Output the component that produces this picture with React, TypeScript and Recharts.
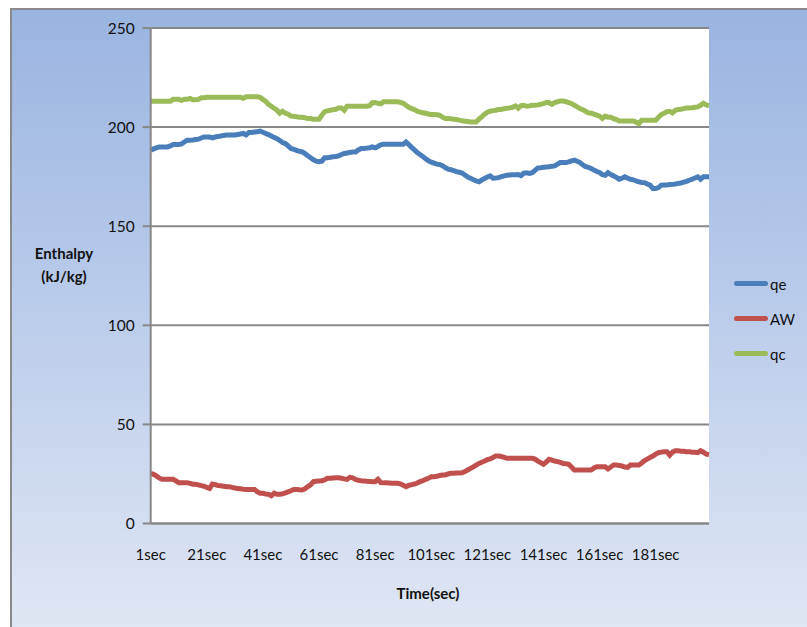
import React from 'react';
import { LineChart, Line, XAxis, YAxis, CartesianGrid, Legend, Label } from 'recharts';

const seconds: string[] = Array.from({ length: 200 }, (_, i) => `${i + 1}sec`);
const xTicks = ['1sec', '21sec', '41sec', '61sec', '81sec', '101sec', '121sec', '141sec', '161sec', '181sec'];
const yTicks = [0, 50, 100, 150, 200, 250];
const seriesOrder = ['qe', 'AW', 'qc'];

const qe = [
  188.3, 189, 189.5, 190, 190, 190, 190, 190.5, 191.2, 191.2,
  191.2, 191.5, 192.5, 193.4, 193.4, 193.5, 193.7, 193.9, 194.5, 195,
  195, 195, 194.6, 195, 195.3, 195.5, 195.8, 196, 196, 196,
  196, 196.3, 196.5, 196.8, 196, 197.3, 197.3, 197.5, 197.6, 198,
  197.4, 196.8, 196.2, 195.5, 194.8, 194.2, 193.2, 192.2, 191.7, 190.5,
  189.2, 188.8, 188.3, 187.8, 187.5, 186.6, 185.5, 184.5, 183.5, 182.8,
  182.5, 182.8, 184.5, 184.5, 184.8, 185, 185.2, 185.5, 186.2, 186.7,
  186.9, 187.2, 187.5, 187.5, 188.5, 189.2, 189.2, 189.4, 189.6, 190,
  189.5, 190.2, 191, 191.4, 191.4, 191.4, 191.4, 191.4, 191.4, 191.4,
  191.4, 192.5, 191.2, 189.8, 188.5, 187.2, 186.2, 185.2, 184, 183,
  182.3, 181.8, 181.3, 181.1, 180.5, 179.6, 178.8, 178.5, 178, 177.5,
  177.2, 176.8, 175.8, 174.8, 174.2, 173.5, 172.8, 172.4, 173.3, 174.1,
  174.8, 175.4, 174.2, 174.3, 174.5, 175, 175.4, 175.7, 175.8, 175.9,
  176, 176.1, 175.5, 176.8, 176.9, 176.6, 177, 178.2, 179.4, 179.5,
  179.7, 179.9, 180, 180.2, 180.4, 181.3, 182.1, 182.1, 182.1, 182.5,
  183, 183.3, 182.8, 182.1, 181, 180, 179.7, 179.1, 178.3, 177.6,
  177.1, 176, 175.7, 177, 176, 175.4, 174.6, 173.7, 174.2, 174.9,
  174.2, 173.7, 173.4, 172.8, 172.4, 172.1, 172, 171.3, 170.7, 169,
  169, 169.5, 170.7, 170.8, 170.8, 171, 171.1, 171.3, 171.6, 171.8,
  172.2, 172.6, 173.2, 173.7, 174.3, 174.9, 173.7, 174.9, 174.9, 174.9,
];

const aw = [
  25.3, 24.8, 24, 23, 22.3, 22.3, 22.3, 22.3, 22.3, 21.5,
  20.6, 20.6, 20.6, 20.6, 20.2, 19.8, 19.8, 19.5, 19.1, 18.8,
  18.2, 17.7, 19.9, 19.6, 19.2, 19, 18.8, 18.6, 18.6, 18.2,
  17.9, 17.7, 17.5, 17.3, 17.2, 17.2, 17.2, 17.2, 16, 15.2,
  15.2, 14.9, 14.7, 14, 15.3, 14.7, 14.7, 15, 15.5, 16,
  16.5, 17.2, 17.2, 17, 16.9, 17.5, 18.6, 19.5, 21.1, 21.3,
  21.5, 21.6, 22, 22.8, 22.8, 23, 23.1, 23.1, 22.8, 22.5,
  22.3, 23.3, 23, 22.2, 21.8, 21.6, 21.5, 21.3, 21.2, 21.1,
  21.1, 22.3, 20.6, 20.5, 20.5, 20.4, 20.3, 20.3, 20.3, 20,
  19.3, 18.6, 19.2, 19.6, 19.9, 20.4, 21.1, 21.6, 22.3, 22.8,
  23.6, 23.6, 23.8, 24.2, 24.5, 24.5, 25, 25.3, 25.4, 25.5,
  25.5, 25.6, 26.2, 27, 27.8, 28.6, 29.5, 30.3, 30.9, 31.5,
  32.2, 32.6, 33.3, 34, 34, 33.8, 33.4, 32.9, 32.9, 32.9,
  32.9, 32.9, 32.9, 32.9, 32.9, 32.9, 32.9, 32.5, 31.5, 30.7,
  29.9, 31, 32.4, 32, 31.5, 31.2, 30.8, 30.3, 30.1, 29.9,
  28.5, 27, 27, 27, 27, 27, 27, 27, 28, 28.6,
  28.6, 28.6, 28.6, 27.5, 28.5, 29.5, 29.5, 29.3, 29, 28.5,
  28.3, 29.5, 29.5, 29.5, 29.5, 30.5, 31.7, 32.5, 33.3, 34,
  35, 35.7, 36, 36.2, 36.2, 34.5, 36, 36.7, 36.7, 36.5,
  36.4, 36.2, 36.2, 36, 35.9, 35.7, 36.7, 36, 35, 34.8,
];

const qc = [
  213, 213, 213, 213, 213, 213, 213, 213, 214, 214,
  214, 213.5, 214, 214, 214.5, 213.8, 213.8, 214, 214.8, 214.8,
  215, 215, 215, 215, 215, 215, 215, 215, 215, 215,
  215, 215, 215, 214.5, 215.3, 215.3, 215.3, 215.3, 215.3, 215,
  214, 213, 211.5, 210.5, 209.5, 208.5, 207, 208, 207, 206.5,
  205.6, 205.5, 205.2, 205, 205, 204.7, 204.3, 204.3, 204, 204,
  204, 206, 207.8, 208.2, 208.5, 208.8, 209, 209.7, 209.7, 208.5,
  210.5, 210.5, 210.5, 210.5, 210.5, 210.5, 210.5, 210.5, 210.8, 212.3,
  212.4, 212, 211.7, 212.8, 212.8, 212.8, 212.8, 212.8, 212.8, 212.5,
  212, 211, 210, 209.3, 208.8, 208, 207.6, 207.2, 207, 206.6,
  206.3, 206.3, 206.2, 206, 205, 204.3, 204.3, 204.2, 204, 203.8,
  203.5, 203.2, 203, 202.8, 202.6, 202.6, 202.6, 204, 205.2, 206.5,
  207.5, 208, 208.3, 208.5, 208.9, 208.9, 209.3, 209.5, 209.7, 210,
  210.7, 209.5, 210.8, 211, 210.5, 210.7, 211, 211, 211.2, 211.5,
  211.8, 212.4, 212.4, 211.5, 212.4, 212.8, 213.2, 213.2, 212.8, 212.3,
  211.9, 211, 210.2, 209.4, 208.8, 208, 207.2, 207, 206.5, 206,
  205.5, 204.3, 205.5, 205, 205, 204.3, 203.8, 203.1, 203.1, 203.1,
  203.1, 203.1, 203.1, 202.5, 201.8, 203.5, 203.5, 203.5, 203.5, 203.5,
  203.5, 205, 206.3, 207, 207.8, 208, 207.2, 208.5, 208.9, 209,
  209.3, 209.7, 209.7, 209.8, 210, 210.2, 211, 212, 211.2, 210.7,
];

const data = seconds.map((t, i) => ({ t, qe: qe[i], AW: aw[i], qc: qc[i] }));

const FONT = 'Lato, "Liberation Sans", sans-serif';
const GRID = '#878787';

const renderLegend = (props: any) => {
  const payload = [...(props.payload || [])].sort(
    (a: any, b: any) => seriesOrder.indexOf(a.value) - seriesOrder.indexOf(b.value)
  );
  return (
    <div style={{ fontFamily: FONT, fontSize: 15, color: '#111' }}>
      {payload.map((p: any) => (
        <div key={p.value} style={{ display: 'flex', alignItems: 'center', height: 35 }}>
          <div style={{ width: 34, height: 5, borderRadius: 2.5, background: p.color }} />
          <span style={{ marginLeft: 2 }}>{p.value}</span>
        </div>
      ))}
    </div>
  );
};

export default function App() {
  return (
    <div style={{ position: 'fixed', left: 0, top: 0, width: 807, height: 627, overflow: 'hidden', background: '#fff' }}>
      <div
        style={{
          position: 'absolute',
          left: 10,
          top: 8,
          width: 820,
          height: 640,
          boxSizing: 'border-box',
          borderLeft: '2px solid #8a8a8a',
          borderTop: '2px solid #8a8a8a',
          background: 'linear-gradient(to bottom, #9ab4e1 0%, #b9cbea 45%, #e2e8f5 100%)',
        }}
      />
      <div style={{ position: 'absolute', left: 0, top: 0 }}>
        <LineChart
          width={807}
          height={627}
          data={data}
          margin={{ top: 28, right: 98, bottom: 73.5, left: 90.7 }}
          style={{ fontFamily: FONT }}
        >
          <CartesianGrid vertical={false} horizontal stroke={GRID} strokeWidth={2} fill="#ffffff" />
          <XAxis
            dataKey="t"
            type="category"
            ticks={xTicks}
            interval={0}
            tickLine={false}
            axisLine={{ stroke: GRID, strokeWidth: 2 }}
            tickMargin={20}
            tick={{ fill: '#111', fontSize: 15, fontFamily: FONT }}
            height={30}
          >
            <Label
              content={() => (
                <text x={428} y={599} textAnchor="middle" fontWeight="bold" fontSize={15} fill="#111" fontFamily={FONT}>
                  Time(sec)
                </text>
              )}
            />
          </XAxis>
          <YAxis
            domain={[0, 250]}
            ticks={yTicks}
            width={60}
            tickSize={8}
            tickMargin={8}
            axisLine={{ stroke: GRID, strokeWidth: 2 }}
            tickLine={{ stroke: GRID, strokeWidth: 2 }}
            tick={{ fill: '#111', fontSize: 15.5, fontFamily: FONT }}
          >
            <Label
              content={() => (
                <text textAnchor="middle" fontWeight="bold" fontSize={15} fill="#111" fontFamily={FONT}>
                  <tspan x={64} y={259}>Enthalpy</tspan>
                  <tspan x={64} y={282}>(kJ/kg)</tspan>
                </text>
              )}
            />
          </YAxis>
          <Legend
            layout="vertical"
            align="center"
            verticalAlign="middle"
            content={renderLegend}
            wrapperStyle={{ position: 'absolute', left: 734, top: 266, width: 70 }}
          />
          <Line type="linear" dataKey="qe" name="qe" stroke="#4a7ebb" strokeWidth={5} dot={false} isAnimationActive={false} />
          <Line type="linear" dataKey="AW" name="AW" stroke="#c0504d" strokeWidth={5} dot={false} isAnimationActive={false} />
          <Line type="linear" dataKey="qc" name="qc" stroke="#9bbb59" strokeWidth={5} dot={false} isAnimationActive={false} />
        </LineChart>
      </div>
    </div>
  );
}
